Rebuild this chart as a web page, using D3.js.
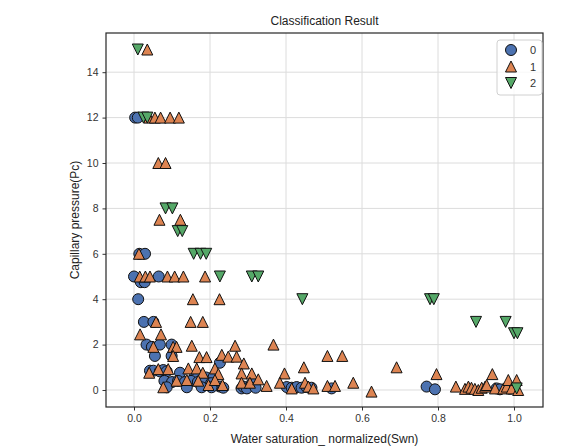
<!DOCTYPE html>
<html>
<head>
<meta charset="utf-8">
<script src="https://cdn.jsdelivr.net/npm/d3@7"></script>
<style>
  body { margin: 0; background: #fff; }
  text { font-family: "Liberation Sans", Arial, sans-serif; }
</style>
</head>
<body>
<div id="chart"></div>
<script>
// values: [Swn, Pc]
var class0 = [
    [0.003, 12], [0.01, 12],
    [0.014, 6], [0.029, 6],
    [0.0, 5], [0.018, 4.75], [0.028, 4.75], [0.065, 5],
    [0.011, 4],
    [0.026, 3], [0.051, 3],
    [0.033, 2], [0.047, 1.9], [0.068, 2.0], [0.099, 2.0],
    [0.055, 1.5], [0.099, 1.5], [0.226, 1.2],
    [0.042, 0.85], [0.051, 0.85], [0.068, 0.82], [0.077, 0.88], [0.086, 0.82],
    [0.121, 0.76], [0.16, 0.6], [0.19, 0.55], [0.21, 0.6],
    [0.08, 0.4], [0.1, 0.35], [0.116, 0.4], [0.134, 0.35], [0.15, 0.4], [0.168, 0.35],
    [0.186, 0.4], [0.203, 0.3], [0.226, 0.15], [0.235, 0.1],
    [0.086, 0.12], [0.139, 0.12], [0.178, 0.12], [0.204, 0.12],
    [0.283, 0.07], [0.288, 0.15], [0.297, 0.07], [0.31, 0.29], [0.318, 0.29], [0.32, 0.1],
    [0.402, 0.13], [0.415, 0.1], [0.428, 0.13], [0.441, 0.1], [0.454, 0.13], [0.467, 0.1], [0.52, 0.07],
    [0.77, 0.15], [0.792, 0.03],
    [0.954, 0.07], [0.963, 0.03], [0.99, 0.05]
];
var class1 = [
    [0.035, 15],
    [0.04, 12], [0.055, 12], [0.07, 12], [0.095, 12], [0.118, 12],
    [0.064, 10], [0.083, 10],
    [0.067, 7.5], [0.122, 7.5],
    [0.013, 6],
    [0.015, 5], [0.03, 5], [0.042, 5], [0.088, 5], [0.107, 5], [0.13, 5], [0.187, 5],
    [0.155, 4], [0.225, 4],
    [0.058, 3], [0.149, 3], [0.181, 3],
    [0.016, 2.45], [0.071, 2.45],
    [0.051, 1.9], [0.103, 1.9], [0.112, 1.9], [0.152, 1.95], [0.266, 1.95], [0.367, 2],
    [0.103, 1.5], [0.172, 1.45], [0.191, 1.45], [0.231, 1.55], [0.248, 1.47], [0.27, 1.47], [0.289, 1.17],
    [0.509, 1.5], [0.548, 1.5],
    [0.04, 0.76], [0.064, 0.92], [0.09, 0.92], [0.143, 0.95], [0.165, 0.95], [0.181, 0.76], [0.213, 0.95],
    [0.222, 0.7], [0.283, 0.73], [0.31, 0.73],
    [0.447, 1.0], [0.691, 1.0],
    [0.077, 0.12], [0.112, 0.41], [0.139, 0.44], [0.169, 0.41], [0.196, 0.22], [0.213, 0.44], [0.233, 0.22],
    [0.283, 0.32], [0.305, 0.32],
    [0.327, 0.47], [0.349, 0.18], [0.396, 0.73], [0.384, 0.32],
    [0.415, 0.07], [0.45, 0.32], [0.459, 0.15], [0.472, 0.07],
    [0.509, 0.18], [0.529, 0.18], [0.577, 0.32], [0.625, -0.07],
    [0.796, 0.7],
    [0.847, 0.15], [0.871, 0.05], [0.88, 0.15], [0.888, 0.1], [0.897, 0.05], [0.906, 0.0],
    [0.915, 0.1], [0.924, 0.15], [0.928, 0.22], [0.943, 0.7],
    [0.95, 0.07], [0.972, 0.07], [0.981, 0.15], [0.985, 0.44], [0.994, 0.07], [1.007, 0.44], [1.011, 0.0]
];
var class2 = [
    [0.01, 15],
    [0.025, 12], [0.035, 12],
    [0.083, 8], [0.101, 8],
    [0.115, 7], [0.127, 7],
    [0.157, 6], [0.175, 6], [0.19, 6],
    [0.226, 5], [0.31, 5], [0.327, 5],
    [0.443, 4],
    [0.779, 4], [0.789, 4],
    [0.9, 3], [0.978, 3],
    [1.0, 2.5], [1.009, 2.5],
    [1.007, 0.07]
];
var classNames = ["0", "1", "2"];
var xTicks = [0, 0.2, 0.4, 0.6, 0.8, 1.0];
var yTicks = [0, 2, 4, 6, 8, 10, 12, 14];

var W = 566, H = 446;
var margin = { top: 33, right: 23, bottom: 39, left: 106 };
var width = W - margin.left - margin.right,
    height = H - margin.top - margin.bottom;

var colors = ["#4c72b0", "#dd8452", "#55a868"];
var msize = 11;

// marker paths: circle, triangle up, triangle down
function markerPath(k, m) {
    var h = m / 2;
    if (k == 0) return d3.symbol().type(d3.symbolCircle).size(Math.PI * h * h)();
    if (k == 1) return "M0," + (-h) + "L" + (-h) + "," + h + "L" + h + "," + h + "Z";
    return "M0," + h + "L" + (-h) + "," + (-h) + "L" + h + "," + (-h) + "Z";
}

var svg = d3.select("#chart").append("svg")
    .attr("width", W).attr("height", H);
var g = svg.append("g")
    .attr("transform", "translate(" + margin.left + "," + margin.top + ")");

var x = d3.scaleLinear().domain([-0.0737, 1.0763]).range([0, width]);
var y = d3.scaleLinear().domain([-0.749, 15.727]).range([height, 0]);

// grid
g.selectAll(".gx").data(xTicks).enter().append("line")
    .attr("x1", function (d) { return x(d); }).attr("x2", function (d) { return x(d); })
    .attr("y1", 0).attr("y2", height)
    .style("stroke", "#dcdcdc").style("stroke-width", 1);
g.selectAll(".gy").data(yTicks).enter().append("line")
    .attr("y1", function (d) { return y(d); }).attr("y2", function (d) { return y(d); })
    .attr("x1", 0).attr("x2", width)
    .style("stroke", "#dcdcdc").style("stroke-width", 1);

// points
var groups = [class0, class1, class2];
for (var i = 0; i < groups.length; i++) {
    g.selectAll(".pt" + i).data(groups[i]).enter().append("path")
        .attr("d", markerPath(i, msize))
        .attr("transform", function (d) { return "translate(" + x(d[0]) + "," + y(d[1]) + ")"; })
        .style("fill", colors[i])
        .style("stroke", "#111")
        .style("stroke-width", 1);
}

// axes
var xAxis = g.append("g")
    .attr("transform", "translate(0," + height + ")")
    .call(d3.axisBottom(x).tickValues(xTicks).tickFormat(d3.format(".1f")).tickSize(3.5).tickPadding(4));
var yAxis = g.append("g")
    .call(d3.axisLeft(y).tickValues(yTicks).tickSize(3.5).tickPadding(4));
[xAxis, yAxis].forEach(function (a) {
    a.select(".domain").remove();
    a.selectAll("line").style("stroke", "#333");
    a.selectAll("text").style("font-size", "10.5px").style("fill", "#333")
        .style("font-family", "Liberation Sans, Arial, sans-serif");
});

// frame
g.append("rect").attr("width", width).attr("height", height)
    .style("fill", "none").style("stroke", "#262626").style("stroke-width", 1.2);

// title and labels
svg.append("text").attr("x", margin.left + width / 2).attr("y", 25)
    .attr("text-anchor", "middle").style("font-size", "12px").style("fill", "#222")
    .text("Classification Result");
svg.append("text").attr("x", margin.left + width / 2).attr("y", 443)
    .attr("text-anchor", "middle").style("font-size", "12px").style("fill", "#222")
    .text("Water saturation_ normalized(Swn)");
svg.append("text")
    .attr("transform", "translate(79," + (margin.top + height / 2) + ") rotate(-90)")
    .attr("text-anchor", "middle").style("font-size", "12px").style("fill", "#222")
    .text("Capillary pressure(Pc)");

// legend
var lg = svg.append("g").attr("transform", "translate(497,40)");
lg.append("rect").attr("width", 45).attr("height", 55).attr("rx", 3)
    .style("fill", "#fff").style("fill-opacity", 0.8)
    .style("stroke", "#d0d0d0").style("stroke-width", 1);
for (var i = 0; i < classNames.length; i++) {
    lg.append("path").attr("d", markerPath(i, msize))
        .attr("transform", "translate(14," + (10 + i * 16.5) + ")")
        .style("fill", colors[i]).style("stroke", "#111").style("stroke-width", 1);
    lg.append("text").attr("x", 36).attr("y", 10 + i * 16.5 + 4)
        .attr("text-anchor", "middle").style("font-size", "11px").style("fill", "#333")
        .text(classNames[i]);
}
</script>
</body>
</html>
